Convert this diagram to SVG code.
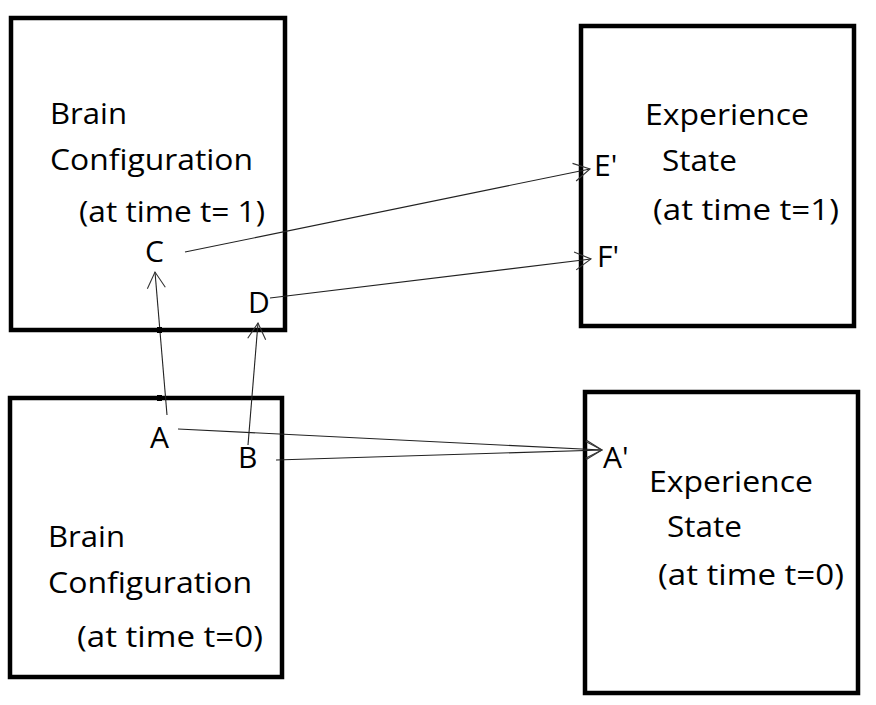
<svg xmlns="http://www.w3.org/2000/svg" width="876" height="705" viewBox="0 0 876 705">
<style>
.box{fill:none;stroke:#000;stroke-width:4.5}
.lbl{font-family:"Open Sans","Noto Sans",sans-serif;font-size:30px;fill:#000}
.con{stroke:#222;stroke-width:1.1;fill:none}
</style>
<defs>
<marker id="arr" viewBox="-18 -11 19 22" refX="0" refY="0" markerWidth="19" markerHeight="22" markerUnits="userSpaceOnUse" orient="auto">
<path d="M-16,-9 L0,0 L-16,9" fill="none" stroke="#333" stroke-width="1.1"/>
</marker>
</defs>
<rect width="876" height="705" fill="#fff"/>
<g id="brain-t1">
<rect class="box" x="11" y="18" width="274" height="312"/>
<text class="lbl" x="50" y="124" textLength="77" lengthAdjust="spacingAndGlyphs">Brain</text>
<text class="lbl" x="50" y="170" textLength="203" lengthAdjust="spacingAndGlyphs">Configuration</text>
<text class="lbl" x="79" y="222" textLength="186" lengthAdjust="spacingAndGlyphs">(at time t= 1)</text>
<text class="lbl" x="145" y="262">C</text>
<text class="lbl" x="248" y="313">D</text>
</g>
<g id="exp-t1">
<rect class="box" x="581" y="26" width="273" height="300"/>
<text class="lbl" x="645" y="125" textLength="164" lengthAdjust="spacingAndGlyphs">Experience</text>
<text class="lbl" x="662" y="171" textLength="75" lengthAdjust="spacingAndGlyphs">State</text>
<text class="lbl" x="653" y="220" textLength="186" lengthAdjust="spacingAndGlyphs">(at time t=1)</text>
<text class="lbl" x="594" y="176">E'</text>
<text class="lbl" x="597" y="267">F'</text>
</g>
<g id="brain-t0">
<rect class="box" x="10" y="398" width="272" height="279"/>
<text class="lbl" x="150" y="448">A</text>
<text class="lbl" x="238" y="468">B</text>
<text class="lbl" x="48" y="547" textLength="77" lengthAdjust="spacingAndGlyphs">Brain</text>
<text class="lbl" x="48" y="593" textLength="204" lengthAdjust="spacingAndGlyphs">Configuration</text>
<text class="lbl" x="77" y="647" textLength="186" lengthAdjust="spacingAndGlyphs">(at time t=0)</text>
</g>
<g id="exp-t0">
<rect class="box" x="585" y="392" width="273" height="301"/>
<text class="lbl" x="603" y="468">A'</text>
<text class="lbl" x="649" y="492" textLength="164" lengthAdjust="spacingAndGlyphs">Experience</text>
<text class="lbl" x="667" y="537" textLength="75" lengthAdjust="spacingAndGlyphs">State</text>
<text class="lbl" x="658" y="585" textLength="186" lengthAdjust="spacingAndGlyphs">(at time t=0)</text>
</g>
<g id="connectors">
<line class="con" x1="185" y1="252" x2="590" y2="169" marker-end="url(#arr)"/>
<line class="con" x1="270" y1="298" x2="591" y2="259" marker-end="url(#arr)"/>
<line class="con" x1="167" y1="415" x2="155" y2="272" marker-end="url(#arr)"/>
<line class="con" x1="248" y1="445" x2="258" y2="323" marker-end="url(#arr)"/>
<line class="con" x1="178" y1="429" x2="602" y2="450" marker-end="url(#arr)"/>
<line class="con" x1="276" y1="460" x2="602" y2="450" marker-end="url(#arr)"/>
<rect x="157" y="327" width="5" height="6" fill="#000"/>
<rect x="157" y="395" width="5" height="6" fill="#000"/>
</g>
</svg>
